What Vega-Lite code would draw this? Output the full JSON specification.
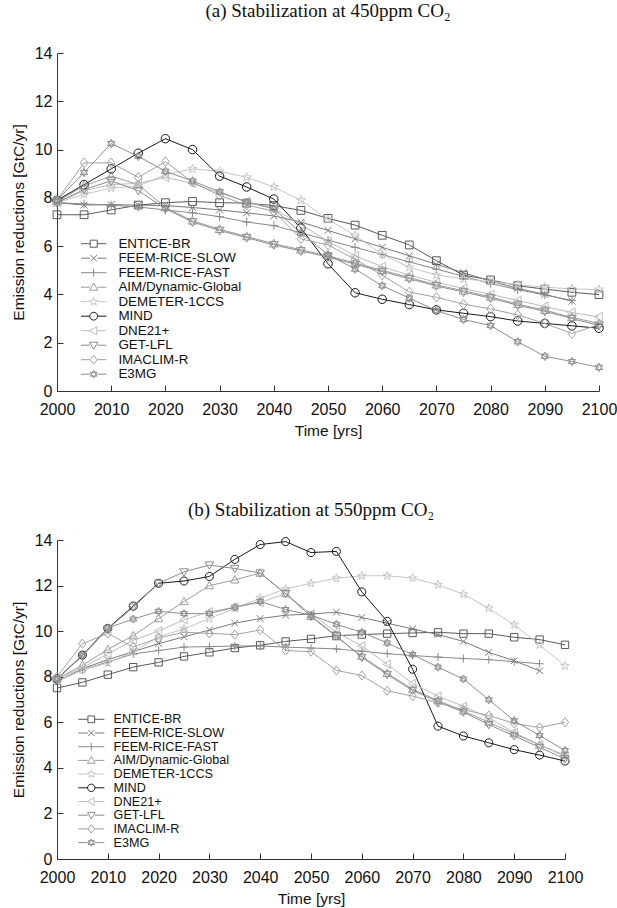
{
"$schema":"https://vega.github.io/schema/vega-lite/v6.json",
"background":"white",
"padding":{"left":11,"top":2,"right":4,"bottom":2},
"config":{
 "view":{"stroke":null},
 "font":"Liberation Sans",
 "axis":{"grid":false,"domainColor":"#333","tickColor":"#333","labelColor":"#111","titleColor":"#111","labelFont":"Liberation Sans","titleFont":"Liberation Sans","labelFontSize":16,"titleFontSize":15.5,"titleFontWeight":"normal","tickSize":-6,"domainWidth":1,"tickWidth":1},
 "axisX":{"labelPadding":16,"titlePadding":6,"labelFlush":false},
 "axisY":{"labelPadding":11,"titlePadding":8},
 "legend":{"labelFont":"Liberation Sans","labelFontSize":13.4,"labelColor":"#111","symbolStrokeWidth":1,"padding":0},
 "title":{"font":"Liberation Serif","fontSize":19,"fontWeight":"normal","color":"#111","anchor":"middle"}
},
"resolve":{"legend":{"color":"independent","shape":"independent"}},
"spacing":62,
"datasets":{
"a":[
{"model":"ENTICE-BR","year":2000,"value":7.3},{"model":"ENTICE-BR","year":2005,"value":7.3},{"model":"ENTICE-BR","year":2010,"value":7.5},{"model":"ENTICE-BR","year":2015,"value":7.7},{"model":"ENTICE-BR","year":2020,"value":7.8},{"model":"ENTICE-BR","year":2025,"value":7.85},{"model":"ENTICE-BR","year":2030,"value":7.8},{"model":"ENTICE-BR","year":2035,"value":7.78},{"model":"ENTICE-BR","year":2040,"value":7.68},{"model":"ENTICE-BR","year":2045,"value":7.48},{"model":"ENTICE-BR","year":2050,"value":7.15},{"model":"ENTICE-BR","year":2055,"value":6.87},{"model":"ENTICE-BR","year":2060,"value":6.45},{"model":"ENTICE-BR","year":2065,"value":6.05},{"model":"ENTICE-BR","year":2070,"value":5.4},{"model":"ENTICE-BR","year":2075,"value":4.8},{"model":"ENTICE-BR","year":2080,"value":4.6},{"model":"ENTICE-BR","year":2085,"value":4.36},{"model":"ENTICE-BR","year":2090,"value":4.22},{"model":"ENTICE-BR","year":2095,"value":4.09},{"model":"ENTICE-BR","year":2100,"value":3.99},
{"model":"FEEM-RICE-SLOW","year":2000,"value":7.8},{"model":"FEEM-RICE-SLOW","year":2005,"value":7.7},{"model":"FEEM-RICE-SLOW","year":2010,"value":7.72},{"model":"FEEM-RICE-SLOW","year":2015,"value":7.7},{"model":"FEEM-RICE-SLOW","year":2020,"value":7.68},{"model":"FEEM-RICE-SLOW","year":2025,"value":7.6},{"model":"FEEM-RICE-SLOW","year":2030,"value":7.5},{"model":"FEEM-RICE-SLOW","year":2035,"value":7.38},{"model":"FEEM-RICE-SLOW","year":2040,"value":7.25},{"model":"FEEM-RICE-SLOW","year":2045,"value":7.0},{"model":"FEEM-RICE-SLOW","year":2050,"value":6.65},{"model":"FEEM-RICE-SLOW","year":2055,"value":6.3},{"model":"FEEM-RICE-SLOW","year":2060,"value":5.95},{"model":"FEEM-RICE-SLOW","year":2065,"value":5.6},{"model":"FEEM-RICE-SLOW","year":2070,"value":5.25},{"model":"FEEM-RICE-SLOW","year":2075,"value":4.9},{"model":"FEEM-RICE-SLOW","year":2080,"value":4.55},{"model":"FEEM-RICE-SLOW","year":2085,"value":4.25},{"model":"FEEM-RICE-SLOW","year":2090,"value":4.0},{"model":"FEEM-RICE-SLOW","year":2095,"value":3.72},
{"model":"FEEM-RICE-FAST","year":2000,"value":7.8},{"model":"FEEM-RICE-FAST","year":2005,"value":7.75},{"model":"FEEM-RICE-FAST","year":2010,"value":7.7},{"model":"FEEM-RICE-FAST","year":2015,"value":7.62},{"model":"FEEM-RICE-FAST","year":2020,"value":7.5},{"model":"FEEM-RICE-FAST","year":2025,"value":7.38},{"model":"FEEM-RICE-FAST","year":2030,"value":7.22},{"model":"FEEM-RICE-FAST","year":2035,"value":7.0},{"model":"FEEM-RICE-FAST","year":2040,"value":6.85},{"model":"FEEM-RICE-FAST","year":2045,"value":6.55},{"model":"FEEM-RICE-FAST","year":2050,"value":6.25},{"model":"FEEM-RICE-FAST","year":2055,"value":5.95},{"model":"FEEM-RICE-FAST","year":2060,"value":5.65},{"model":"FEEM-RICE-FAST","year":2065,"value":5.35},{"model":"FEEM-RICE-FAST","year":2070,"value":5.05},{"model":"FEEM-RICE-FAST","year":2075,"value":4.75},{"model":"FEEM-RICE-FAST","year":2080,"value":4.45},{"model":"FEEM-RICE-FAST","year":2085,"value":4.2},{"model":"FEEM-RICE-FAST","year":2090,"value":3.98},{"model":"FEEM-RICE-FAST","year":2095,"value":3.75},
{"model":"AIM/Dynamic-Global","year":2000,"value":7.85},{"model":"AIM/Dynamic-Global","year":2005,"value":8.5},{"model":"AIM/Dynamic-Global","year":2010,"value":8.9},{"model":"AIM/Dynamic-Global","year":2015,"value":8.55},{"model":"AIM/Dynamic-Global","year":2020,"value":7.6},{"model":"AIM/Dynamic-Global","year":2025,"value":7.05},{"model":"AIM/Dynamic-Global","year":2030,"value":6.7},{"model":"AIM/Dynamic-Global","year":2035,"value":6.4},{"model":"AIM/Dynamic-Global","year":2040,"value":6.1},{"model":"AIM/Dynamic-Global","year":2045,"value":5.85},{"model":"AIM/Dynamic-Global","year":2050,"value":5.6},{"model":"AIM/Dynamic-Global","year":2055,"value":5.3},{"model":"AIM/Dynamic-Global","year":2060,"value":5.0},{"model":"AIM/Dynamic-Global","year":2065,"value":4.7},{"model":"AIM/Dynamic-Global","year":2070,"value":4.4},{"model":"AIM/Dynamic-Global","year":2075,"value":4.15},{"model":"AIM/Dynamic-Global","year":2080,"value":3.9},{"model":"AIM/Dynamic-Global","year":2085,"value":3.6},{"model":"AIM/Dynamic-Global","year":2090,"value":3.35},{"model":"AIM/Dynamic-Global","year":2095,"value":3.05},{"model":"AIM/Dynamic-Global","year":2100,"value":2.8},
{"model":"DEMETER-1CCS","year":2000,"value":7.8},{"model":"DEMETER-1CCS","year":2005,"value":8.15},{"model":"DEMETER-1CCS","year":2010,"value":8.4},{"model":"DEMETER-1CCS","year":2015,"value":8.5},{"model":"DEMETER-1CCS","year":2020,"value":8.95},{"model":"DEMETER-1CCS","year":2025,"value":9.2},{"model":"DEMETER-1CCS","year":2030,"value":9.1},{"model":"DEMETER-1CCS","year":2035,"value":8.85},{"model":"DEMETER-1CCS","year":2040,"value":8.45},{"model":"DEMETER-1CCS","year":2045,"value":7.9},{"model":"DEMETER-1CCS","year":2050,"value":7.1},{"model":"DEMETER-1CCS","year":2055,"value":6.45},{"model":"DEMETER-1CCS","year":2060,"value":5.65},{"model":"DEMETER-1CCS","year":2065,"value":5.12},{"model":"DEMETER-1CCS","year":2070,"value":4.81},{"model":"DEMETER-1CCS","year":2075,"value":4.64},{"model":"DEMETER-1CCS","year":2080,"value":4.53},{"model":"DEMETER-1CCS","year":2085,"value":4.4},{"model":"DEMETER-1CCS","year":2090,"value":4.3},{"model":"DEMETER-1CCS","year":2095,"value":4.23},{"model":"DEMETER-1CCS","year":2100,"value":4.2},
{"model":"MIND","year":2000,"value":7.9},{"model":"MIND","year":2005,"value":8.55},{"model":"MIND","year":2010,"value":9.2},{"model":"MIND","year":2015,"value":9.85},{"model":"MIND","year":2020,"value":10.45},{"model":"MIND","year":2025,"value":10.0},{"model":"MIND","year":2030,"value":8.9},{"model":"MIND","year":2035,"value":8.45},{"model":"MIND","year":2040,"value":7.95},{"model":"MIND","year":2045,"value":6.75},{"model":"MIND","year":2050,"value":5.27},{"model":"MIND","year":2055,"value":4.07},{"model":"MIND","year":2060,"value":3.8},{"model":"MIND","year":2065,"value":3.58},{"model":"MIND","year":2070,"value":3.36},{"model":"MIND","year":2075,"value":3.22},{"model":"MIND","year":2080,"value":3.08},{"model":"MIND","year":2085,"value":2.9},{"model":"MIND","year":2090,"value":2.8},{"model":"MIND","year":2095,"value":2.7},{"model":"MIND","year":2100,"value":2.6},
{"model":"DNE21+","year":2000,"value":7.8},{"model":"DNE21+","year":2005,"value":8.3},{"model":"DNE21+","year":2010,"value":8.55},{"model":"DNE21+","year":2015,"value":8.6},{"model":"DNE21+","year":2020,"value":8.85},{"model":"DNE21+","year":2025,"value":8.6},{"model":"DNE21+","year":2030,"value":8.2},{"model":"DNE21+","year":2035,"value":7.85},{"model":"DNE21+","year":2040,"value":7.55},{"model":"DNE21+","year":2045,"value":6.9},{"model":"DNE21+","year":2050,"value":6.2},{"model":"DNE21+","year":2055,"value":5.6},{"model":"DNE21+","year":2060,"value":5.15},{"model":"DNE21+","year":2065,"value":4.8},{"model":"DNE21+","year":2070,"value":4.5},{"model":"DNE21+","year":2075,"value":4.25},{"model":"DNE21+","year":2080,"value":4.0},{"model":"DNE21+","year":2085,"value":3.75},{"model":"DNE21+","year":2090,"value":3.5},{"model":"DNE21+","year":2095,"value":3.25},{"model":"DNE21+","year":2100,"value":3.07},
{"model":"GET-LFL","year":2000,"value":7.8},{"model":"GET-LFL","year":2005,"value":8.35},{"model":"GET-LFL","year":2010,"value":8.7},{"model":"GET-LFL","year":2015,"value":8.3},{"model":"GET-LFL","year":2020,"value":7.55},{"model":"GET-LFL","year":2025,"value":7.0},{"model":"GET-LFL","year":2030,"value":6.65},{"model":"GET-LFL","year":2035,"value":6.35},{"model":"GET-LFL","year":2040,"value":6.05},{"model":"GET-LFL","year":2045,"value":5.8},{"model":"GET-LFL","year":2050,"value":5.55},{"model":"GET-LFL","year":2055,"value":5.25},{"model":"GET-LFL","year":2060,"value":4.95},{"model":"GET-LFL","year":2065,"value":4.65},{"model":"GET-LFL","year":2070,"value":4.35},{"model":"GET-LFL","year":2075,"value":4.1},{"model":"GET-LFL","year":2080,"value":3.85},{"model":"GET-LFL","year":2085,"value":3.55},{"model":"GET-LFL","year":2090,"value":3.3},{"model":"GET-LFL","year":2095,"value":3.0},{"model":"GET-LFL","year":2100,"value":2.72},
{"model":"IMACLIM-R","year":2000,"value":7.9},{"model":"IMACLIM-R","year":2005,"value":9.45},{"model":"IMACLIM-R","year":2010,"value":9.45},{"model":"IMACLIM-R","year":2015,"value":8.85},{"model":"IMACLIM-R","year":2020,"value":9.5},{"model":"IMACLIM-R","year":2025,"value":8.65},{"model":"IMACLIM-R","year":2030,"value":8.1},{"model":"IMACLIM-R","year":2035,"value":7.7},{"model":"IMACLIM-R","year":2040,"value":7.45},{"model":"IMACLIM-R","year":2045,"value":6.3},{"model":"IMACLIM-R","year":2050,"value":6.05},{"model":"IMACLIM-R","year":2055,"value":5.45},{"model":"IMACLIM-R","year":2060,"value":4.8},{"model":"IMACLIM-R","year":2065,"value":4.1},{"model":"IMACLIM-R","year":2070,"value":3.88},{"model":"IMACLIM-R","year":2075,"value":3.6},{"model":"IMACLIM-R","year":2080,"value":3.4},{"model":"IMACLIM-R","year":2085,"value":3.15},{"model":"IMACLIM-R","year":2090,"value":2.8},{"model":"IMACLIM-R","year":2095,"value":2.38},{"model":"IMACLIM-R","year":2100,"value":2.75},
{"model":"E3MG","year":2000,"value":7.9},{"model":"E3MG","year":2005,"value":9.05},{"model":"E3MG","year":2010,"value":10.25},{"model":"E3MG","year":2015,"value":9.72},{"model":"E3MG","year":2020,"value":9.1},{"model":"E3MG","year":2025,"value":8.7},{"model":"E3MG","year":2030,"value":8.25},{"model":"E3MG","year":2035,"value":7.82},{"model":"E3MG","year":2040,"value":7.55},{"model":"E3MG","year":2045,"value":6.55},{"model":"E3MG","year":2050,"value":5.65},{"model":"E3MG","year":2055,"value":5.05},{"model":"E3MG","year":2060,"value":4.36},{"model":"E3MG","year":2065,"value":3.85},{"model":"E3MG","year":2070,"value":3.33},{"model":"E3MG","year":2075,"value":2.96},{"model":"E3MG","year":2080,"value":2.71},{"model":"E3MG","year":2085,"value":2.04},{"model":"E3MG","year":2090,"value":1.44},{"model":"E3MG","year":2095,"value":1.22},{"model":"E3MG","year":2100,"value":0.98}
],
"b":[
{"model":"ENTICE-BR","year":2000,"value":7.5},{"model":"ENTICE-BR","year":2005,"value":7.75},{"model":"ENTICE-BR","year":2010,"value":8.09},{"model":"ENTICE-BR","year":2015,"value":8.42},{"model":"ENTICE-BR","year":2020,"value":8.63},{"model":"ENTICE-BR","year":2025,"value":8.89},{"model":"ENTICE-BR","year":2030,"value":9.07},{"model":"ENTICE-BR","year":2035,"value":9.26},{"model":"ENTICE-BR","year":2040,"value":9.38},{"model":"ENTICE-BR","year":2045,"value":9.55},{"model":"ENTICE-BR","year":2050,"value":9.66},{"model":"ENTICE-BR","year":2055,"value":9.8},{"model":"ENTICE-BR","year":2060,"value":9.85},{"model":"ENTICE-BR","year":2065,"value":9.89},{"model":"ENTICE-BR","year":2070,"value":9.92},{"model":"ENTICE-BR","year":2075,"value":9.95},{"model":"ENTICE-BR","year":2080,"value":9.89},{"model":"ENTICE-BR","year":2085,"value":9.89},{"model":"ENTICE-BR","year":2090,"value":9.73},{"model":"ENTICE-BR","year":2095,"value":9.63},{"model":"ENTICE-BR","year":2100,"value":9.4},
{"model":"FEEM-RICE-SLOW","year":2000,"value":7.8},{"model":"FEEM-RICE-SLOW","year":2005,"value":8.35},{"model":"FEEM-RICE-SLOW","year":2010,"value":8.75},{"model":"FEEM-RICE-SLOW","year":2015,"value":9.1},{"model":"FEEM-RICE-SLOW","year":2020,"value":9.45},{"model":"FEEM-RICE-SLOW","year":2025,"value":9.75},{"model":"FEEM-RICE-SLOW","year":2030,"value":10.05},{"model":"FEEM-RICE-SLOW","year":2035,"value":10.35},{"model":"FEEM-RICE-SLOW","year":2040,"value":10.55},{"model":"FEEM-RICE-SLOW","year":2045,"value":10.7},{"model":"FEEM-RICE-SLOW","year":2050,"value":10.75},{"model":"FEEM-RICE-SLOW","year":2055,"value":10.83},{"model":"FEEM-RICE-SLOW","year":2060,"value":10.6},{"model":"FEEM-RICE-SLOW","year":2065,"value":10.35},{"model":"FEEM-RICE-SLOW","year":2070,"value":10.1},{"model":"FEEM-RICE-SLOW","year":2075,"value":9.85},{"model":"FEEM-RICE-SLOW","year":2080,"value":9.55},{"model":"FEEM-RICE-SLOW","year":2085,"value":9.07},{"model":"FEEM-RICE-SLOW","year":2090,"value":8.7},{"model":"FEEM-RICE-SLOW","year":2095,"value":8.26},
{"model":"FEEM-RICE-FAST","year":2000,"value":7.8},{"model":"FEEM-RICE-FAST","year":2005,"value":8.3},{"model":"FEEM-RICE-FAST","year":2010,"value":8.65},{"model":"FEEM-RICE-FAST","year":2015,"value":9.0},{"model":"FEEM-RICE-FAST","year":2020,"value":9.15},{"model":"FEEM-RICE-FAST","year":2025,"value":9.3},{"model":"FEEM-RICE-FAST","year":2030,"value":9.32},{"model":"FEEM-RICE-FAST","year":2035,"value":9.35},{"model":"FEEM-RICE-FAST","year":2040,"value":9.35},{"model":"FEEM-RICE-FAST","year":2045,"value":9.3},{"model":"FEEM-RICE-FAST","year":2050,"value":9.26},{"model":"FEEM-RICE-FAST","year":2055,"value":9.22},{"model":"FEEM-RICE-FAST","year":2060,"value":9.12},{"model":"FEEM-RICE-FAST","year":2065,"value":9.01},{"model":"FEEM-RICE-FAST","year":2070,"value":8.93},{"model":"FEEM-RICE-FAST","year":2075,"value":8.86},{"model":"FEEM-RICE-FAST","year":2080,"value":8.8},{"model":"FEEM-RICE-FAST","year":2085,"value":8.75},{"model":"FEEM-RICE-FAST","year":2090,"value":8.66},{"model":"FEEM-RICE-FAST","year":2095,"value":8.57},
{"model":"AIM/Dynamic-Global","year":2000,"value":7.9},{"model":"AIM/Dynamic-Global","year":2005,"value":8.5},{"model":"AIM/Dynamic-Global","year":2010,"value":9.2},{"model":"AIM/Dynamic-Global","year":2015,"value":9.8},{"model":"AIM/Dynamic-Global","year":2020,"value":10.55},{"model":"AIM/Dynamic-Global","year":2025,"value":11.3},{"model":"AIM/Dynamic-Global","year":2030,"value":12.0},{"model":"AIM/Dynamic-Global","year":2035,"value":12.25},{"model":"AIM/Dynamic-Global","year":2040,"value":12.55},{"model":"AIM/Dynamic-Global","year":2045,"value":11.65},{"model":"AIM/Dynamic-Global","year":2050,"value":10.65},{"model":"AIM/Dynamic-Global","year":2055,"value":9.75},{"model":"AIM/Dynamic-Global","year":2060,"value":8.9},{"model":"AIM/Dynamic-Global","year":2065,"value":8.15},{"model":"AIM/Dynamic-Global","year":2070,"value":7.45},{"model":"AIM/Dynamic-Global","year":2075,"value":6.95},{"model":"AIM/Dynamic-Global","year":2080,"value":6.5},{"model":"AIM/Dynamic-Global","year":2085,"value":6.0},{"model":"AIM/Dynamic-Global","year":2090,"value":5.5},{"model":"AIM/Dynamic-Global","year":2095,"value":5.0},{"model":"AIM/Dynamic-Global","year":2100,"value":4.55},
{"model":"DEMETER-1CCS","year":2000,"value":7.8},{"model":"DEMETER-1CCS","year":2005,"value":8.3},{"model":"DEMETER-1CCS","year":2010,"value":8.6},{"model":"DEMETER-1CCS","year":2015,"value":9.1},{"model":"DEMETER-1CCS","year":2020,"value":9.75},{"model":"DEMETER-1CCS","year":2025,"value":10.1},{"model":"DEMETER-1CCS","year":2030,"value":10.55},{"model":"DEMETER-1CCS","year":2035,"value":11.0},{"model":"DEMETER-1CCS","year":2040,"value":11.45},{"model":"DEMETER-1CCS","year":2045,"value":11.85},{"model":"DEMETER-1CCS","year":2050,"value":12.1},{"model":"DEMETER-1CCS","year":2055,"value":12.32},{"model":"DEMETER-1CCS","year":2060,"value":12.43},{"model":"DEMETER-1CCS","year":2065,"value":12.43},{"model":"DEMETER-1CCS","year":2070,"value":12.33},{"model":"DEMETER-1CCS","year":2075,"value":12.03},{"model":"DEMETER-1CCS","year":2080,"value":11.62},{"model":"DEMETER-1CCS","year":2085,"value":11.0},{"model":"DEMETER-1CCS","year":2090,"value":10.28},{"model":"DEMETER-1CCS","year":2095,"value":9.4},{"model":"DEMETER-1CCS","year":2100,"value":8.47},
{"model":"MIND","year":2000,"value":7.9},{"model":"MIND","year":2005,"value":8.95},{"model":"MIND","year":2010,"value":10.12},{"model":"MIND","year":2015,"value":11.1},{"model":"MIND","year":2020,"value":12.1},{"model":"MIND","year":2025,"value":12.2},{"model":"MIND","year":2030,"value":12.4},{"model":"MIND","year":2035,"value":13.15},{"model":"MIND","year":2040,"value":13.8},{"model":"MIND","year":2045,"value":13.93},{"model":"MIND","year":2050,"value":13.45},{"model":"MIND","year":2055,"value":13.5},{"model":"MIND","year":2060,"value":11.72},{"model":"MIND","year":2065,"value":10.43},{"model":"MIND","year":2070,"value":8.33},{"model":"MIND","year":2075,"value":5.83},{"model":"MIND","year":2080,"value":5.4},{"model":"MIND","year":2085,"value":5.1},{"model":"MIND","year":2090,"value":4.8},{"model":"MIND","year":2095,"value":4.56},{"model":"MIND","year":2100,"value":4.3},
{"model":"DNE21+","year":2000,"value":7.9},{"model":"DNE21+","year":2005,"value":8.4},{"model":"DNE21+","year":2010,"value":9.0},{"model":"DNE21+","year":2015,"value":9.6},{"model":"DNE21+","year":2020,"value":10.0},{"model":"DNE21+","year":2025,"value":10.5},{"model":"DNE21+","year":2030,"value":10.85},{"model":"DNE21+","year":2035,"value":11.05},{"model":"DNE21+","year":2040,"value":11.25},{"model":"DNE21+","year":2045,"value":11.65},{"model":"DNE21+","year":2050,"value":10.75},{"model":"DNE21+","year":2055,"value":9.95},{"model":"DNE21+","year":2060,"value":9.35},{"model":"DNE21+","year":2065,"value":8.55},{"model":"DNE21+","year":2070,"value":7.7},{"model":"DNE21+","year":2075,"value":7.15},{"model":"DNE21+","year":2080,"value":6.7},{"model":"DNE21+","year":2085,"value":6.2},{"model":"DNE21+","year":2090,"value":5.55},{"model":"DNE21+","year":2095,"value":5.02},{"model":"DNE21+","year":2100,"value":4.5},
{"model":"GET-LFL","year":2000,"value":7.9},{"model":"GET-LFL","year":2005,"value":8.9},{"model":"GET-LFL","year":2010,"value":10.1},{"model":"GET-LFL","year":2015,"value":11.05},{"model":"GET-LFL","year":2020,"value":12.1},{"model":"GET-LFL","year":2025,"value":12.6},{"model":"GET-LFL","year":2030,"value":12.9},{"model":"GET-LFL","year":2035,"value":12.75},{"model":"GET-LFL","year":2040,"value":12.55},{"model":"GET-LFL","year":2045,"value":11.65},{"model":"GET-LFL","year":2050,"value":10.65},{"model":"GET-LFL","year":2055,"value":9.8},{"model":"GET-LFL","year":2060,"value":8.85},{"model":"GET-LFL","year":2065,"value":8.1},{"model":"GET-LFL","year":2070,"value":7.4},{"model":"GET-LFL","year":2075,"value":6.9},{"model":"GET-LFL","year":2080,"value":6.45},{"model":"GET-LFL","year":2085,"value":5.9},{"model":"GET-LFL","year":2090,"value":5.4},{"model":"GET-LFL","year":2095,"value":4.9},{"model":"GET-LFL","year":2100,"value":4.4},
{"model":"IMACLIM-R","year":2000,"value":8.0},{"model":"IMACLIM-R","year":2005,"value":9.45},{"model":"IMACLIM-R","year":2010,"value":9.9},{"model":"IMACLIM-R","year":2015,"value":9.3},{"model":"IMACLIM-R","year":2020,"value":9.7},{"model":"IMACLIM-R","year":2025,"value":9.95},{"model":"IMACLIM-R","year":2030,"value":9.9},{"model":"IMACLIM-R","year":2035,"value":9.85},{"model":"IMACLIM-R","year":2040,"value":10.05},{"model":"IMACLIM-R","year":2045,"value":9.15},{"model":"IMACLIM-R","year":2050,"value":9.1},{"model":"IMACLIM-R","year":2055,"value":8.28},{"model":"IMACLIM-R","year":2060,"value":8.05},{"model":"IMACLIM-R","year":2065,"value":7.38},{"model":"IMACLIM-R","year":2070,"value":7.15},{"model":"IMACLIM-R","year":2075,"value":6.85},{"model":"IMACLIM-R","year":2080,"value":6.55},{"model":"IMACLIM-R","year":2085,"value":6.3},{"model":"IMACLIM-R","year":2090,"value":5.95},{"model":"IMACLIM-R","year":2095,"value":5.77},{"model":"IMACLIM-R","year":2100,"value":6.0},
{"model":"E3MG","year":2000,"value":7.9},{"model":"E3MG","year":2005,"value":8.95},{"model":"E3MG","year":2010,"value":10.14},{"model":"E3MG","year":2015,"value":10.53},{"model":"E3MG","year":2020,"value":10.87},{"model":"E3MG","year":2025,"value":10.77},{"model":"E3MG","year":2030,"value":10.77},{"model":"E3MG","year":2035,"value":11.05},{"model":"E3MG","year":2040,"value":11.3},{"model":"E3MG","year":2045,"value":10.95},{"model":"E3MG","year":2050,"value":10.7},{"model":"E3MG","year":2055,"value":10.3},{"model":"E3MG","year":2060,"value":9.95},{"model":"E3MG","year":2065,"value":9.48},{"model":"E3MG","year":2070,"value":8.97},{"model":"E3MG","year":2075,"value":8.42},{"model":"E3MG","year":2080,"value":7.9},{"model":"E3MG","year":2085,"value":6.99},{"model":"E3MG","year":2090,"value":6.07},{"model":"E3MG","year":2095,"value":5.42},{"model":"E3MG","year":2100,"value":4.76}
]
},
"vconcat":[
{
 "data":{"name":"a"},
 "width":542,"height":338,
 "title":{"text":"(a) Stabilization at 450ppm CO₂","offset":24},
 "encoding":{
  "x":{"field":"year","type":"quantitative","scale":{"domain":[2000,2100],"nice":false,"zero":false},"axis":{"values":[2000,2010,2020,2030,2040,2050,2060,2070,2080,2090,2100],"format":"d","title":"Time [yrs]"}},
  "y":{"field":"value","type":"quantitative","scale":{"domain":[0,14],"nice":false},"axis":{"values":[0,2,4,6,8,10,12,14],"title":"Emission reductions [GtC/yr]"}}
 },
 "layer":[
  {"mark":{"type":"line","strokeWidth":1},
   "encoding":{
    "color":{"field":"model","type":"nominal","scale":{"domain":["ENTICE-BR","FEEM-RICE-SLOW","FEEM-RICE-FAST","AIM/Dynamic-Global","DEMETER-1CCS","MIND","DNE21+","GET-LFL","IMACLIM-R","E3MG"],"range":["#5a5a5a","#7a7a7a","#8a8a8a","#9c9c9c","#c6c6c6","#1a1a1a","#bcbcbc","#8c8c8c","#a2a2a2","#8f8f8f"]},"legend":{"orient":"none","legendX":30,"legendY":184,"title":null,"symbolSize":50,"labelFontSize":13.4,"labelOffset":18,"rowPadding":-0.5,"padding":0,"symbolStrokeWidth":1,"encode":{"symbols":{"update":{"shape":{"signal":"'M-3.6,0L-1.05,0M1.05,0L3.6,0' + scale('shape', datum.value)"},"fill":{"value":"transparent"}}}}}}
   }},
  {"mark":{"type":"point","filled":false,"size":60,"strokeWidth":1,"opacity":1},
   "encoding":{
    "color":{"field":"model","type":"nominal","legend":{"orient":"none","legendX":30,"legendY":184,"title":null,"symbolSize":50,"labelFontSize":13.4,"labelOffset":18,"rowPadding":-0.5,"padding":0,"symbolStrokeWidth":1,"encode":{"symbols":{"update":{"shape":{"signal":"'M-3.6,0L-1.05,0M1.05,0L3.6,0' + scale('shape', datum.value)"},"fill":{"value":"transparent"}}}}}},
    "shape":{"field":"model","type":"nominal","scale":{"domain":["MIND","ENTICE-BR","FEEM-RICE-SLOW","FEEM-RICE-FAST","AIM/Dynamic-Global","DEMETER-1CCS","DNE21+","GET-LFL","IMACLIM-R","E3MG"],"range":["M1.1,0A1.1,1.1,0,1,1,-1.1,0A1.1,1.1,0,1,1,1.1,0Z","M-1,-1L1,-1L1,1L-1,1Z","M-0.9,-0.9L0.9,0.9M-0.9,0.9L0.9,-0.9","M-1.1,0L1.1,0M0,-1.1L0,1.1","M0,-1.15L1.15,0.85L-1.15,0.85Z","M0,-1.2L0.28,-0.39L1.14,-0.37L0.46,0.15L0.71,0.97L0,0.48L-0.71,0.97L-0.46,0.15L-1.14,-0.37L-0.28,-0.39Z","M-1.15,0L0.85,-1.15L0.85,1.15Z","M0,1.15L1.15,-0.85L-1.15,-0.85Z","M0,-1.25L1,0L0,1.25L-1,0Z","M0,-1.1L0.95,0.55L-0.95,0.55ZM0,1.1L0.95,-0.55L-0.95,-0.55Z"]},"legend":null}
   }}
 ]
},
{
 "data":{"name":"b"},
 "width":508,"height":319,
 "title":{"text":"(b) Stabilization at 550ppm CO₂","offset":12},
 "encoding":{
  "x":{"field":"year","type":"quantitative","scale":{"domain":[2000,2100],"nice":false,"zero":false},"axis":{"values":[2000,2010,2020,2030,2040,2050,2060,2070,2080,2090,2100],"format":"d","title":"Time [yrs]"}},
  "y":{"field":"value","type":"quantitative","scale":{"domain":[0,14],"nice":false},"axis":{"values":[0,2,4,6,8,10,12,14],"title":"Emission reductions [GtC/yr]"}}
 },
 "layer":[
  {"mark":{"type":"line","strokeWidth":1},
   "encoding":{
    "color":{"field":"model","type":"nominal","legend":{"orient":"none","legendX":28,"legendY":173,"title":null,"symbolSize":45,"labelFontSize":12.6,"labelOffset":16,"rowPadding":0.7,"padding":0,"symbolStrokeWidth":1,"encode":{"symbols":{"update":{"shape":{"signal":"'M-3.9,0L-1.05,0M1.05,0L3.9,0' + scale('shape', datum.value)"},"fill":{"value":"transparent"}}}}}}
   }},
  {"mark":{"type":"point","filled":false,"size":54,"strokeWidth":1,"opacity":1},
   "encoding":{
    "color":{"field":"model","type":"nominal","legend":{"orient":"none","legendX":28,"legendY":173,"title":null,"symbolSize":45,"labelFontSize":12.6,"labelOffset":16,"rowPadding":0.7,"padding":0,"symbolStrokeWidth":1,"encode":{"symbols":{"update":{"shape":{"signal":"'M-3.9,0L-1.05,0M1.05,0L3.9,0' + scale('shape', datum.value)"},"fill":{"value":"transparent"}}}}}},
    "shape":{"field":"model","type":"nominal","legend":null}
   }}
 ]
}
]
}
